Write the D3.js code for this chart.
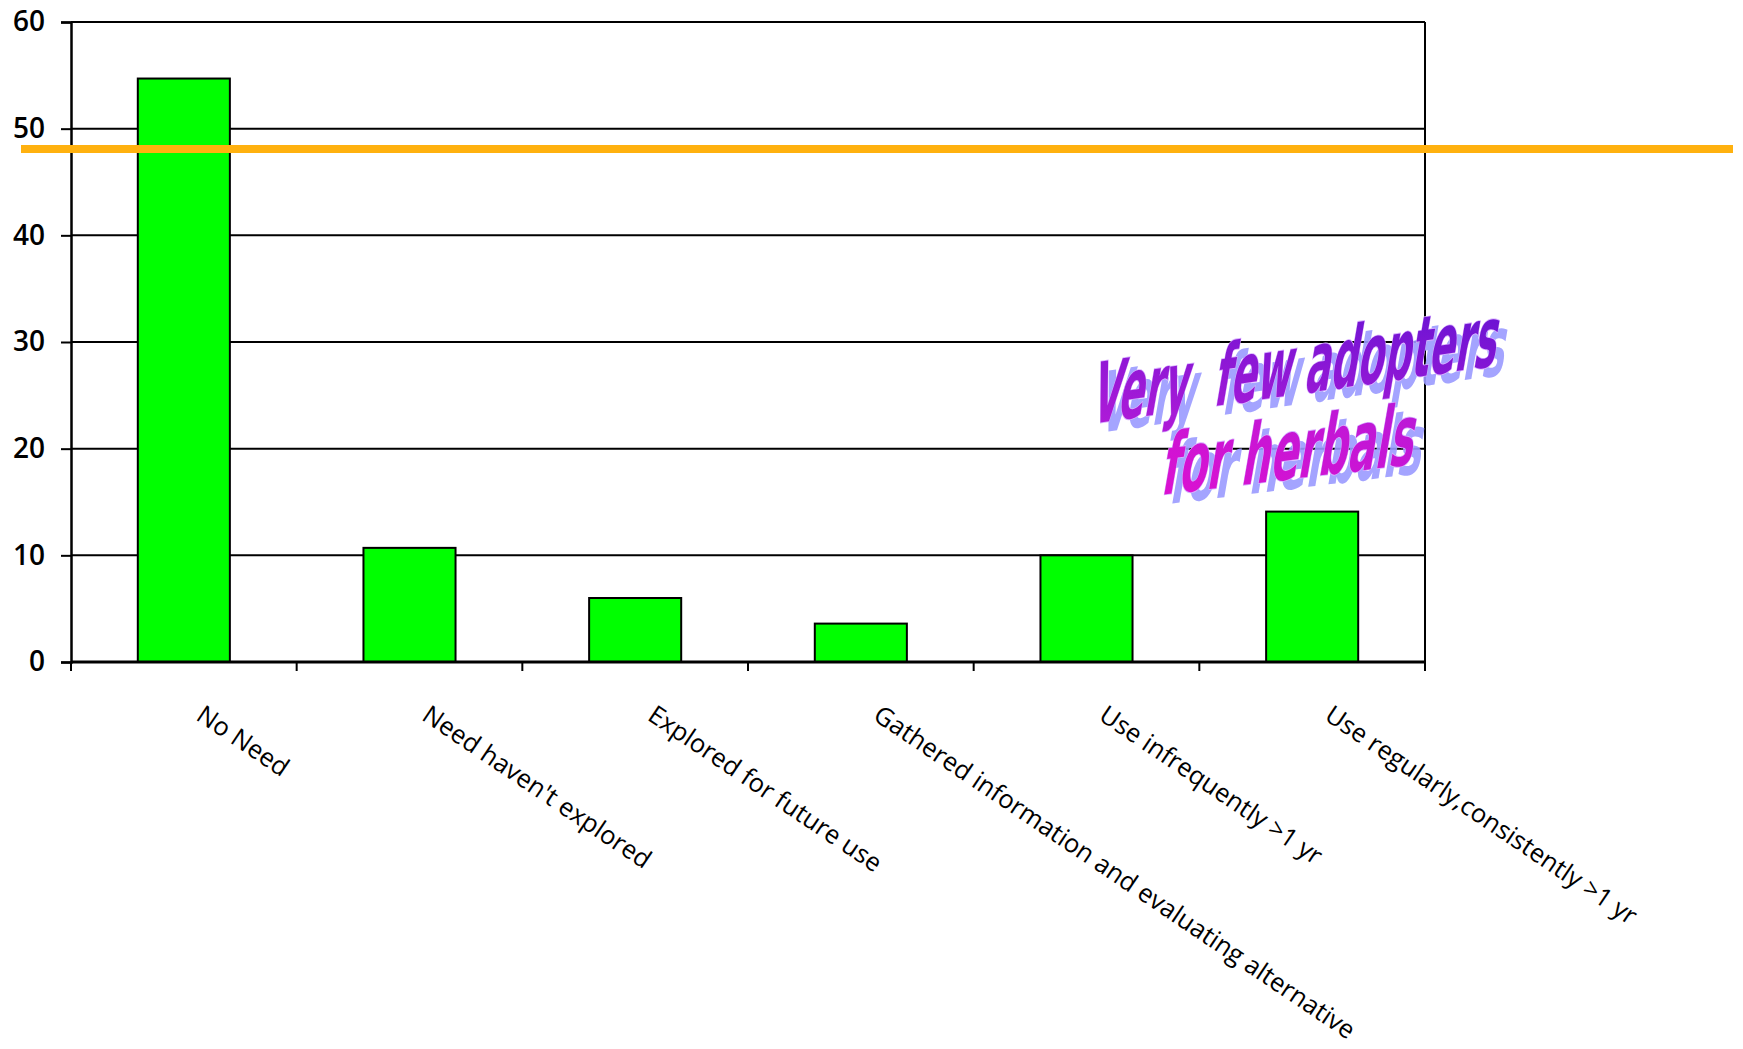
<!DOCTYPE html>
<html>
<head>
<meta charset="utf-8">
<script src="https://cdn.jsdelivr.net/npm/d3@7"></script>
<style>
  html, body { margin: 0; padding: 0; background: #ffffff; }
  svg { display: block; }
</style>
</head>
<body>
<svg id="chart" width="1743" height="1049"></svg>
<script>
// Adoption stage of herbal remedies (percent of respondents)
const categories = [
  "No Need",
  "Need haven't explored",
  "Explored for future use",
  "Gathered information and evaluating alternative",
  "Use infrequently >1 yr",
  "Use regularly,consistently >1 yr"
];
const values = [54.7, 10.7, 6.0, 3.6, 10.0, 14.1];
const yTicks = [0, 10, 20, 30, 40, 50, 60];
const referenceValue = 48.1;
const calloutLines = ["Very\u00a0\u00a0few adopters", "for herbals"];

const svg = d3.select("#chart");
const plot = { left: 71, right: 1425, top: 22, bottom: 662 };

const x = d3.scaleBand()
  .domain(categories)
  .range([plot.left, plot.right])
  .paddingInner(0.592)
  .paddingOuter(0.296);

const y = d3.scaleLinear()
  .domain([0, 60])
  .range([plot.bottom, plot.top]);

// Horizontal gridlines
svg.append("g")
  .selectAll("line")
  .data(yTicks.filter(v => v > 0))
  .join("line")
  .attr("x1", plot.left).attr("x2", plot.right)
  .attr("y1", d => y(d)).attr("y2", d => y(d))
  .attr("stroke", "#000").attr("stroke-width", 2);

// Right border of the plot area
svg.append("line")
  .attr("x1", plot.right).attr("x2", plot.right)
  .attr("y1", y(60)).attr("y2", y(0))
  .attr("stroke", "#000").attr("stroke-width", 2);

// Bars
svg.append("g")
  .selectAll("rect")
  .data(values)
  .join("rect")
  .attr("x", (d, i) => x(categories[i]))
  .attr("width", x.bandwidth())
  .attr("y", d => y(d))
  .attr("height", d => y(0) - y(d))
  .attr("fill", "#00ff00")
  .attr("stroke", "#000")
  .attr("stroke-width", 2);

// Y axis
const yAxis = svg.append("g")
  .attr("transform", `translate(${plot.left},0)`)
  .call(d3.axisLeft(y).tickValues(yTicks).tickSize(10).tickPadding(16).tickFormat(d3.format("d")));
yAxis.select(".domain").attr("stroke", "#000").attr("stroke-width", 2.5);
yAxis.selectAll(".tick line").attr("stroke", "#000").attr("stroke-width", 2);
yAxis.selectAll(".tick text")
  .attr("font-family", "'Open Sans', 'DejaVu Sans', sans-serif")
  .attr("font-size", 28)
  .attr("font-weight", 600)
  .attr("fill", "#000");

// X axis line with ticks at the category boundaries
const xAxis = svg.append("g").attr("transform", `translate(0,${plot.bottom})`);
xAxis.append("line")
  .attr("x1", plot.left).attr("x2", plot.right)
  .attr("y1", 0).attr("y2", 0)
  .attr("stroke", "#000").attr("stroke-width", 3);
const edges = d3.range(categories.length + 1).map(i => plot.left + i * x.step());
xAxis.selectAll(".edge")
  .data(edges)
  .join("line")
  .attr("class", "edge")
  .attr("x1", d => d).attr("x2", d => d)
  .attr("y1", 0).attr("y2", 9)
  .attr("stroke", "#000").attr("stroke-width", 2);

// Rotated category labels
svg.append("g")
  .selectAll("text")
  .data(categories)
  .join("text")
  .attr("transform", d => `translate(${x(d) + x.bandwidth() / 2 + 11},${plot.bottom + 57}) rotate(34)`)
  .attr("text-anchor", "start")
  .attr("font-family", "'Open Sans', 'DejaVu Sans', sans-serif")
  .attr("font-size", 25.5)
  .attr("font-weight", 500)
  .attr("fill", "#000")
  .text(d => d);

// Orange reference line running across the slide
svg.append("line")
  .attr("x1", 21).attr("x2", 1733)
  .attr("y1", y(referenceValue)).attr("y2", y(referenceValue))
  .attr("stroke", "#ffb10f")
  .attr("stroke-width", 8);

// Slanted WordArt-style callout
const defs = svg.append("defs");
const grad1 = defs.append("linearGradient").attr("id", "wa1")
  .attr("x1", 0).attr("y1", 1).attr("x2", 1).attr("y2", 0);
grad1.append("stop").attr("offset", 0).attr("stop-color", "#b81cd8");
grad1.append("stop").attr("offset", 1).attr("stop-color", "#5e12d2");
const grad2 = defs.append("linearGradient").attr("id", "wa2")
  .attr("x1", 0).attr("y1", 1).attr("x2", 1).attr("y2", 0);
grad2.append("stop").attr("offset", 0).attr("stop-color", "#e010d0");
grad2.append("stop").attr("offset", 1).attr("stop-color", "#b41ad8");

const callout = [
  { text: calloutLines[0], x: 1090, y: 424, width: 405, slope: -8.2, fill: "url(#wa1)" },
  { text: calloutLines[1], x: 1160, y: 495, width: 252, slope: -7.0, fill: "url(#wa2)" }
];
const wa = svg.append("g")
  .attr("font-family", "'Liberation Sans Narrow', 'DejaVu Sans Condensed', 'Arial Narrow', sans-serif")
  .attr("font-weight", "bold")
  .attr("font-size", 76);

// shadow
wa.selectAll("text.shadow")
  .data(callout)
  .join("text")
  .attr("class", "shadow")
  .attr("transform", d => `translate(${d.x + 8},${d.y + 9}) skewY(${d.slope}) skewX(-10) scale(1,1.1)`)
  .attr("textLength", d => d.width)
  .attr("lengthAdjust", "spacingAndGlyphs")
  .attr("fill", "#9a9aff")
  .attr("fill-opacity", 0.9)
  .text(d => d.text);

// face
wa.selectAll("text.face")
  .data(callout)
  .join("text")
  .attr("class", "face")
  .attr("transform", d => `translate(${d.x},${d.y}) skewY(${d.slope}) skewX(-10) scale(1,1.1)`)
  .attr("textLength", d => d.width)
  .attr("lengthAdjust", "spacingAndGlyphs")
  .attr("fill", d => d.fill)
  .attr("stroke", "#d8b0ff")
  .attr("stroke-width", 1.5)
  .attr("paint-order", "stroke")
  .text(d => d.text);
</script>
</body>
</html>
